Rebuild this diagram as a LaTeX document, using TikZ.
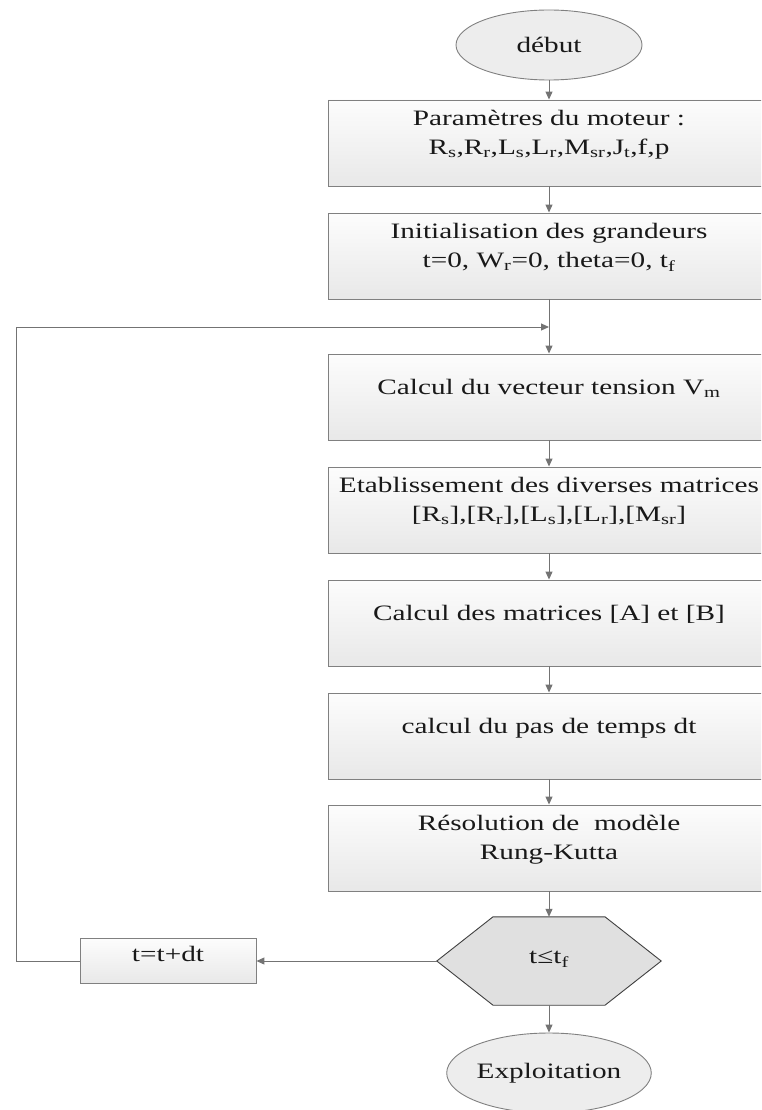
\documentclass[tikz,border=0pt]{standalone}
\usepackage{fontspec}
\setmainfont{Liberation Serif}[FakeStretch=1.33]
\usetikzlibrary{arrows.meta, shapes.geometric, backgrounds}

\begin{document}
\begin{tikzpicture}[x=1pt, y=-1pt, font=\fontsize{22}{29}\selectfont,
  stepbox/.style={draw=black!50, line width=0.9pt, top color=black!1, bottom color=black!9,
                  minimum width=442, minimum height=86, inner sep=0pt, align=center, text=black!90},
  smallbox/.style={stepbox, minimum width=176, minimum height=45},
  term/.style={ellipse, draw=black!50, line width=0.9pt, fill=black!7, inner sep=0pt, text=black!90},
  test/.style={minimum width=224, minimum height=88, inner sep=0pt, align=center, text=black!90},
  hexa/.style={draw=black!75, line width=0.9pt, fill=black!12},
  flow/.style={draw=black!55, line width=1pt, -{Triangle[length=8pt, width=7pt]}}]
  \useasboundingbox (0,0) rectangle (761,1110);
  \clip (0,0) rectangle (761,1110);

  \node[term, minimum width=186, minimum height=70] (start) at (549,45) {début};
  \node[stepbox] (p1) at (549,143) {Paramètres du moteur :\\
    R\textsubscript{s},R\textsubscript{r},L\textsubscript{s},L\textsubscript{r},M\textsubscript{sr},J\textsubscript{t},f,p\\[-8pt]};
  \node[stepbox] (p2) at (549,256) {Initialisation des grandeurs\\
    t=0, W\textsubscript{r}=0, theta=0, t\textsubscript{f}\\[-8pt]};
  \node[stepbox] (p3) at (549,397) {Calcul du vecteur tension V\textsubscript{m}\\[-8pt]};
  \node[stepbox] (p4) at (549,510) {Etablissement des diverses matrices\\
    {[}R\textsubscript{s}],[R\textsubscript{r}],[L\textsubscript{s}],[L\textsubscript{r}],[M\textsubscript{sr}]\\[-8pt]};
  \node[stepbox] (p5) at (549,623) {Calcul des matrices [A] et [B]\\[-8pt]};
  \node[stepbox] (p6) at (549,736) {calcul du pas de temps dt\\[-8pt]};
  \node[stepbox] (p7) at (549,848) {Résolution de~ modèle\\ Rung-Kutta\\[-8pt]};
  \node[test] (cmp) at (549,961) {t≤t\textsubscript{f}\\[-21pt]};
  \node[smallbox] (incr) at (168,961) {t=t+dt\\[-15pt]};
  \node[term, minimum width=170, minimum height=80] (fin) at (549,1073) {Exploitation};

  \begin{scope}[on background layer]
    \draw[hexa] (cmp.west) -- ([xshift=-56]cmp.north) -- ([xshift=56]cmp.north) -- (cmp.east)
      -- ([xshift=56]cmp.south) -- ([xshift=-56]cmp.south) -- cycle;
  \end{scope}

  \coordinate (join) at (549,327);
  \coordinate (back) at (16,327);
  \foreach \a/\b in {start/p1, p1/p2, p2/p3, p3/p4, p4/p5, p5/p6, p6/p7, p7/cmp, cmp/fin, cmp/incr}
    \draw[flow] (\a) -- (\b);
  \draw[flow] (incr.west) -| (back) -- (join);
\end{tikzpicture}
\end{document}
